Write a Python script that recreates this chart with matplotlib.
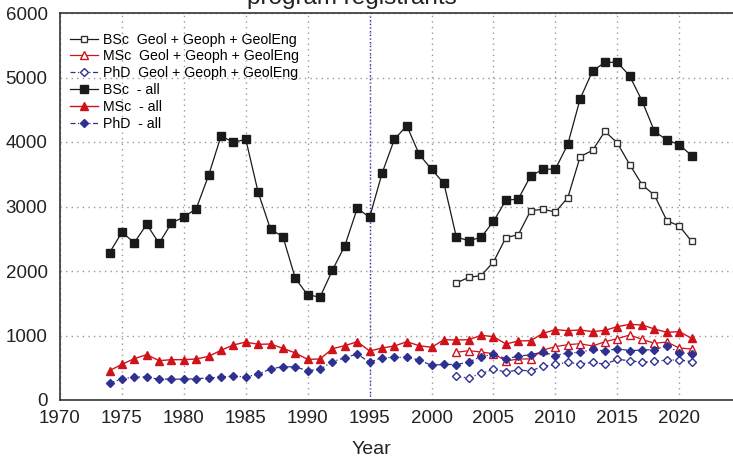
import numpy as np
import matplotlib.pyplot as plt

plt.rcParams['font.family'] = ['Liberation Sans', 'DejaVu Sans']

# Years
years_all = list(range(1974, 2022))
years_geo = list(range(2002, 2022))

# All programs
bsc_all = [2284, 2600, 2439, 2724, 2429, 2744, 2837, 2966, 3483, 4093,
           3995, 4041, 3220, 2646, 2532, 1886, 1628, 1597, 2015, 2393,
           2972, 2832, 3514, 4041, 4253, 3809, 3576, 3359, 2527, 2470,
           2522, 2770, 3096, 3116, 3473, 3576, 3581, 3964, 4671, 5101,
           5236, 5236, 5023, 4636, 4165, 4031, 3959, 3788]
msc_all = [455, 553, 641, 703, 610, 625, 625, 636, 677, 770,
           853, 899, 863, 868, 801, 729, 630, 636, 796, 842,
           904, 760, 806, 837, 904, 842, 817, 935, 930, 935,
           1003, 982, 868, 915, 920, 1034, 1090, 1075, 1085, 1060,
           1080, 1137, 1173, 1163, 1101, 1049, 1060, 956]
phd_all = [264, 326, 357, 357, 321, 326, 321, 331, 341, 357,
           372, 357, 403, 481, 517, 512, 455, 476, 594, 656,
           713, 584, 656, 661, 661, 620, 537, 553, 548, 589,
           672, 708, 641, 677, 703, 744, 687, 729, 739, 785,
           760, 796, 765, 775, 780, 842, 734, 718]

# Geol + Geoph + GeolEng
bsc_geo = [1814, 1902, 1928, 2140, 2517, 2563, 2935, 2956, 2915, 3137,
           3773, 3871, 4165, 3984, 3649, 3338, 3173, 2780, 2698, 2460]
msc_geo = [739, 765, 744, 718, 605, 636, 636, 775, 827, 858,
           873, 837, 904, 951, 1008, 940, 879, 899, 806, 791]
phd_geo = [367, 341, 413, 476, 434, 465, 450, 522, 553, 584,
           558, 584, 553, 630, 610, 584, 599, 620, 620, 594]

black = '#1a1a1a'
red = '#d0121b'
blue = '#2e3192'
phd_ls = (0, (4, 2, 1, 2))

fig = plt.figure(figsize=(7.33, 4.62), dpi=100)
ax = fig.add_axes([60/733, 1 - 400/462, 675/733, 387/462])

ax.plot(years_geo, bsc_geo, color=black, lw=0.9, marker='s', ms=4.5,
        mfc='white', mec='#333333', mew=1.0, label='BSc  Geol + Geoph + GeolEng')
ax.plot(years_geo, msc_geo, color=red, lw=0.9, marker='^', ms=5.5,
        mfc='white', mec=red, mew=1.0, label='MSc  Geol + Geoph + GeolEng')
ax.plot(years_geo, phd_geo, color=blue, lw=0.9, ls=phd_ls, marker='D', ms=3.8,
        mfc='white', mec=blue, mew=1.0, label='PhD  Geol + Geoph + GeolEng')
ax.plot(years_all, bsc_all, color=black, lw=0.9, marker='s', ms=5.5,
        mfc=black, mec=black, label='BSc  - all')
ax.plot(years_all, msc_all, color=red, lw=1.0, marker='^', ms=6,
        mfc=red, mec=red, label='MSc  - all')
ax.plot(years_all, phd_all, color=blue, lw=0.9, ls=phd_ls, marker='D', ms=4.2,
        mfc=blue, mec=blue, label='PhD  - all')

ax.axvline(1995, color='#2020c0', ls=':', lw=1.0, zorder=0)

ax.set_xlim(1970, 2024.5)
ax.set_ylim(0, 6000)
ax.set_xticks(range(1970, 2021, 5))
ax.set_yticks(range(0, 6001, 1000))
ax.grid(True, color='#999999', ls=(0, (1, 3)), lw=1.0)
ax.tick_params(length=0, labelsize=13.5, colors='#222222')
ax.tick_params(axis='y', pad=9)
ax.tick_params(axis='x', pad=7)
for gl in ax.get_xgridlines():
    if abs(gl.get_xdata()[0] - 1995) < 0.1:
        gl.set_visible(False)

for s in ['left', 'bottom', 'top']:
    ax.spines[s].set_color('#333333')
    ax.spines[s].set_linewidth(1.2)
ax.spines['right'].set_visible(False)

ax.set_xlabel('Year', fontsize=14, color='#222222')
ax.xaxis.set_label_coords((371 - 60) / 675, -0.105)

fig.text(352/733, 1 - 4/462, 'program registrants', fontsize=17.5,
         ha='center', va='baseline', color='#222222')

ax.legend(loc='upper left', bbox_to_anchor=(0.0, 0.975), frameon=False,
          fontsize=10.2, handlelength=2.0, handletextpad=0.35,
          labelspacing=0.2, borderaxespad=0.3)

fig.savefig('out.png', dpi=100)
